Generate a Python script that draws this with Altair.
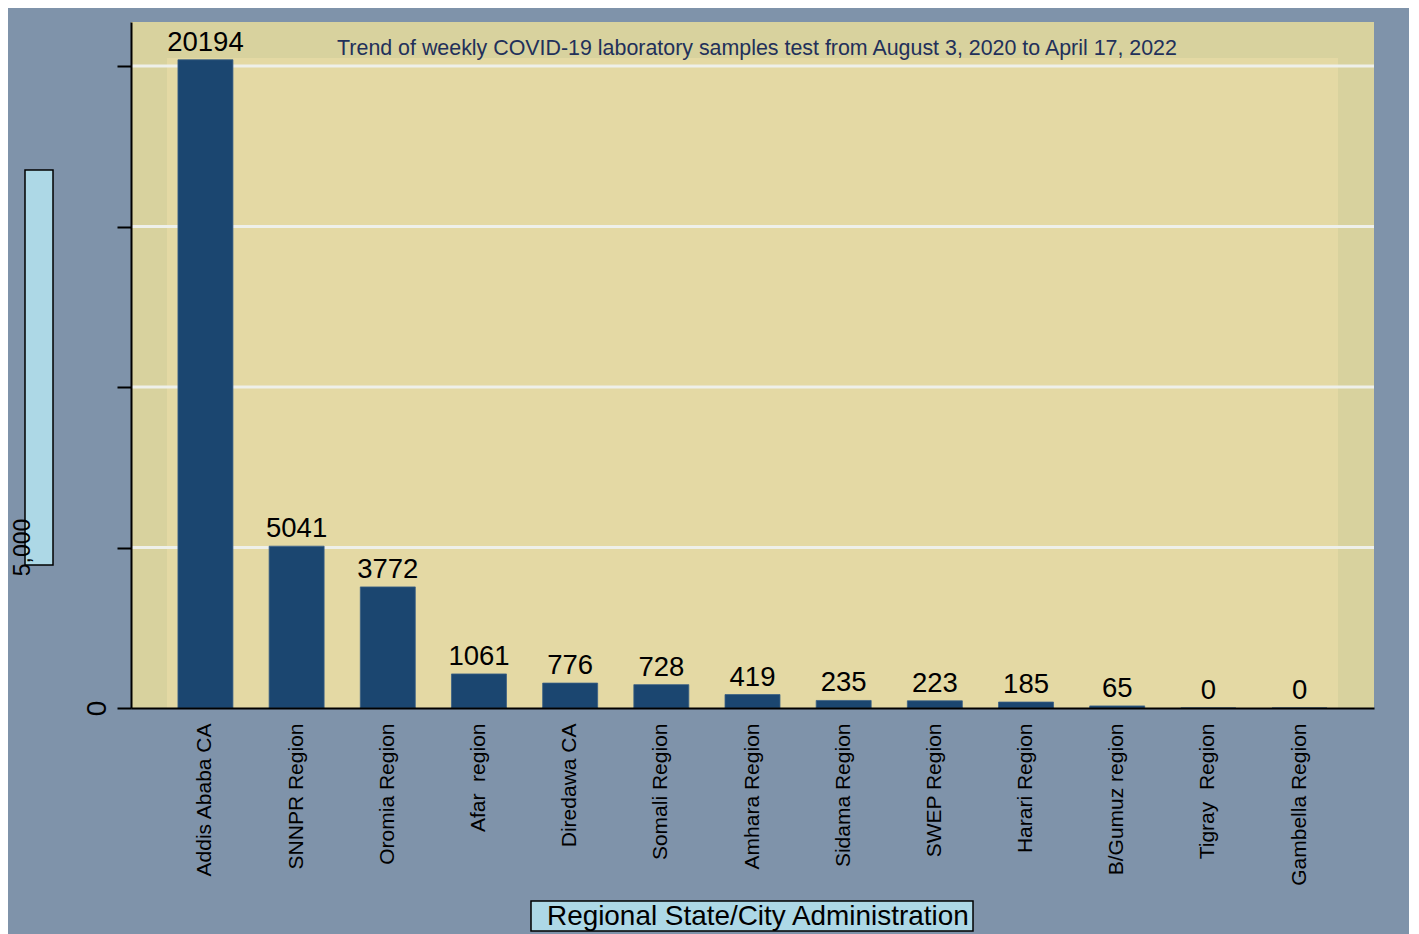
import altair as alt
import pandas as pd

regions = ["Addis Ababa CA", "SNNPR Region", "Oromia Region", "Afar  region",
           "Diredawa CA", "Somali Region", "Amhara Region", "Sidama Region",
           "SWEP Region", "Harari Region", "B/Gumuz region", "Tigray  Region",
           "Gambella Region"]
samples = [20194, 5041, 3772, 1061, 776, 728, 419, 235, 223, 185, 65, 0, 0]
y_ticks = [0, 5000, 10000, 15000, 20000]
grid_values = [5000, 10000, 15000, 20000]
far_label_values = [5000]
far_label_texts = ["5,000"]
title_text = "Trend of weekly COVID-19 laboratory samples test from August 3, 2020 to April 17, 2022"
x_title = "Regional State/City Administration"

FONT = "Liberation Sans"
W, H = 1243, 686

df = pd.DataFrame({"region": regions, "value": samples})
grid_df = pd.DataFrame({"g": grid_values})
far_df = pd.DataFrame({"v": far_label_values, "t": far_label_texts})
one = pd.DataFrame({"a": [0]})

yscale = alt.Scale(domain=[0, 21371], nice=False, zero=True)
xscale = alt.Scale(paddingInner=0.397, paddingOuter=0.515)

inner = alt.Chart(one).mark_rect(color="#e4d9a4").encode(
    x=alt.value(36), x2=alt.value(1207), y=alt.value(36), y2=alt.value(H))

grid = alt.Chart(grid_df).mark_rule(color="#eef0ea", strokeWidth=3).encode(
    y=alt.Y("g:Q", scale=yscale, title=None))

bars = alt.Chart(df).mark_bar(color="#1b4670", stroke="#3a5f85", strokeWidth=0.8).encode(
    x=alt.X("region:N", sort=regions, scale=xscale, title=None,
            axis=alt.Axis(labelAngle=270, labelFontSize=21, labelFont=FONT,
                          labelColor="black", labelPadding=15, ticks=False,
                          domainColor="black", domainWidth=2, zindex=1,
                          labelLimit=400,
                          labelExpr="replace(datum.label, '  ', ' \u00a0')")),
    y=alt.Y("value:Q", scale=yscale, title=None,
            axis=alt.Axis(values=y_ticks, labelExpr="datum.value == 0 ? '0' : ''",
                          labelAngle=270, labelFontSize=28, labelFont=FONT,
                          labelColor="black", labelPadding=12,
                          labelBaseline="alphabetic", labelAlign="center",
                          tickSize=14, tickWidth=2, tickColor="black",
                          domainColor="black", domainWidth=2, grid=False,
                          zindex=1)))

vals = alt.Chart(df).mark_text(fontSize=27.5, font=FONT, color="black",
                               baseline="alphabetic", dy=-9).encode(
    x=alt.X("region:N", sort=regions, scale=xscale, title=None),
    y=alt.Y("value:Q", scale=yscale, title=None),
    text=alt.Text("value:Q", format="d"))

title = alt.Chart(one).mark_text(fontSize=21.4, font=FONT, color="#22305a",
                                 align="center", baseline="alphabetic").encode(
    x=alt.value(626), y=alt.value(33), text=alt.value(title_text))

left_box = alt.Chart(one).mark_rect(color="#add8e6", stroke="black", strokeWidth=1.5).encode(
    x=alt.value(-106), x2=alt.value(-78), y=alt.value(148), y2=alt.value(543))

far = alt.Chart(far_df).mark_text(fontSize=23, font=FONT, color="black", angle=270,
                                  align="center", baseline="alphabetic").encode(
    x=alt.value(-101), y=alt.Y("v:Q", scale=yscale, title=None), text="t:N")

xt_box = alt.Chart(one).mark_rect(color="#add8e6", stroke="black", strokeWidth=1.5).encode(
    x=alt.value(400), x2=alt.value(842), y=alt.value(879), y2=alt.value(909))

xt_text = alt.Chart(one).mark_text(fontSize=27.9, font=FONT, color="black",
                                   align="left", baseline="alphabetic").encode(
    x=alt.value(416), y=alt.value(903), text=alt.value(x_title))

chart = alt.layer(inner, grid, bars, vals, title, left_box, far, xt_box, xt_text).properties(
    width=W, height=H,
    padding={"left": 123, "top": 14, "right": 35, "bottom": 226},
    autosize=alt.AutoSizeParams(type="none"),
    background="#7f93aa",
).configure_view(fill="#d8d29e", strokeWidth=0)

chart.save("out.html", embed_options={"renderer": "svg", "actions": False})
